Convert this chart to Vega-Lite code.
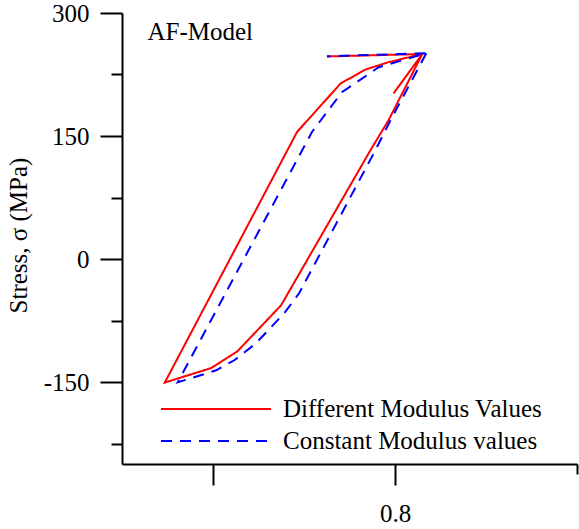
{
  "$schema": "https://vega.github.io/schema/vega-lite/v6.json",
  "autosize": {"type": "none"},
  "padding": {"left": 122, "top": 13, "right": 2, "bottom": 65},
  "width": 455,
  "height": 451,
  "config": {"view": {"stroke": null}, "font": "Liberation Serif",
    "axis": {"titleFont": "Liberation Serif", "labelFont": "Liberation Serif", "titleFontWeight": "normal"},
    "legend": {"labelFont": "Liberation Serif"},
    "text": {"font": "Liberation Serif"}},
  "data": {"values": [
    {"s": "Different Modulus Values", "i": 1, "strain": 0.7992, "stress": 202},
    {"s": "Different Modulus Values", "i": 2, "strain": 0.8150, "stress": 250},
    {"s": "Different Modulus Values", "i": 3, "strain": 0.7964, "stress": 169},
    {"s": "Different Modulus Values", "i": 4, "strain": 0.7866, "stress": 133},
    {"s": "Different Modulus Values", "i": 5, "strain": 0.7374, "stress": -56.5},
    {"s": "Different Modulus Values", "i": 6, "strain": 0.7134, "stress": -112.6},
    {"s": "Different Modulus Values", "i": 7, "strain": 0.6990, "stress": -133},
    {"s": "Different Modulus Values", "i": 8, "strain": 0.6735, "stress": -150.7},
    {"s": "Different Modulus Values", "i": 9, "strain": 0.7462, "stress": 155},
    {"s": "Different Modulus Values", "i": 10, "strain": 0.7701, "stress": 214},
    {"s": "Different Modulus Values", "i": 11, "strain": 0.7837, "stress": 231},
    {"s": "Different Modulus Values", "i": 12, "strain": 0.7964, "stress": 240},
    {"s": "Different Modulus Values", "i": 13, "strain": 0.8150, "stress": 250},
    {"s": "Different Modulus Values", "i": 14, "strain": 0.7626, "stress": 247},
    {"s": "Constant Modulus values", "i": 1, "strain": 0.8172, "stress": 250.9},
    {"s": "Constant Modulus values", "i": 2, "strain": 0.7981, "stress": 171.6},
    {"s": "Constant Modulus values", "i": 3, "strain": 0.7892, "stress": 132.6},
    {"s": "Constant Modulus values", "i": 4, "strain": 0.7473, "stress": -41.8},
    {"s": "Constant Modulus values", "i": 5, "strain": 0.7391, "stress": -66.2},
    {"s": "Constant Modulus values", "i": 6, "strain": 0.7236, "stress": -102.8},
    {"s": "Constant Modulus values", "i": 7, "strain": 0.7117, "stress": -123.5},
    {"s": "Constant Modulus values", "i": 8, "strain": 0.7017, "stress": -135.7},
    {"s": "Constant Modulus values", "i": 9, "strain": 0.6861, "stress": -146.7},
    {"s": "Constant Modulus values", "i": 10, "strain": 0.6806, "stress": -150.4},
    {"s": "Constant Modulus values", "i": 11, "strain": 0.7544, "stress": 154.9},
    {"s": "Constant Modulus values", "i": 12, "strain": 0.7708, "stress": 203.3},
    {"s": "Constant Modulus values", "i": 13, "strain": 0.7910, "stress": 233.8},
    {"s": "Constant Modulus values", "i": 14, "strain": 0.8057, "stress": 243.5},
    {"s": "Constant Modulus values", "i": 15, "strain": 0.8172, "stress": 250.9},
    {"s": "Constant Modulus values", "i": 16, "strain": 0.7626, "stress": 247.2}
  ]},
  "layer": [
    {
      "mark": {"type": "line", "strokeWidth": 2},
      "encoding": {
        "x": {"field": "strain", "type": "quantitative",
          "scale": {"domain": [0.65, 0.9], "nice": false, "zero": false},
          "axis": {"values": [0.7, 0.8], "labelExpr": "datum.value > 0.75 ? '0.8' : ''", "tickSize": 21, "tickWidth": 2, "domainWidth": 2, "domainColor": "black", "tickColor": "black", "labelFontSize": 25, "labelFont": "Liberation Serif", "labelColor": "black", "labelPadding": 16, "title": null, "grid": false, "labelFlush": false, "labelOverlap": false}},
        "y": {"field": "stress", "type": "quantitative",
          "scale": {"domain": [-250, 300], "nice": false, "zero": false},
          "axis": {"values": [-150, 0, 150, 300], "labelExpr": "datum.value + ''", "tickSize": 22, "tickWidth": 2, "domainWidth": 2, "domainColor": "black", "tickColor": "black", "labelFontSize": 25, "labelFont": "Liberation Serif", "labelColor": "black", "labelPadding": 11, "grid": false, "labelFlush": false, "labelOverlap": false,
            "title": "Stress, σ (MPa)", "titleFontSize": 25, "titleFont": "Liberation Serif", "titleFontWeight": "normal", "titleColor": "black", "titleAngle": -90, "titleX": -104, "titleY": 222, "titleAlign": "center", "titleBaseline": "middle"}},
        "color": {"field": "s", "type": "nominal",
          "scale": {"domain": ["Different Modulus Values", "Constant Modulus values"], "range": ["#ff0000", "#0000ff"]},
          "legend": {"title": null, "orient": "none", "legendX": 38, "legendY": 380, "symbolType": "stroke", "symbolSize": 12100, "symbolStrokeWidth": 2, "clipHeight": 32, "rowPadding": 0, "labelOffset": 11, "padding": 0, "labelFontSize": 25, "labelFont": "Liberation Serif", "labelLimit": 400, "labelColor": "black"}},
        "strokeDash": {"field": "s", "type": "nominal",
          "scale": {"domain": ["Different Modulus Values", "Constant Modulus values"], "range": [[1, 0], [11, 8]]},
          "legend": {"title": null, "orient": "none", "legendX": 38, "legendY": 380, "symbolType": "stroke", "symbolSize": 12100, "symbolStrokeWidth": 2, "clipHeight": 32, "rowPadding": 0, "labelOffset": 11, "padding": 0, "labelFontSize": 25, "labelFont": "Liberation Serif", "labelLimit": 400, "labelColor": "black"}},
        "order": {"field": "i", "type": "quantitative"}
      }
    },
    {
      "mark": {"type": "point", "opacity": 0},
      "encoding": {
        "x": {"field": "strain", "type": "quantitative",
          "axis": {"orient": "bottom", "values": [0.9], "tickSize": 10, "tickWidth": 2, "tickColor": "black", "labels": false, "domain": false, "grid": false, "title": null}},
        "y": {"field": "stress", "type": "quantitative",
          "axis": {"orient": "left", "values": [-225, -75, 75, 225], "tickSize": 11, "tickWidth": 2, "tickColor": "black", "labels": false, "domain": false, "grid": false, "title": null}}
      }
    },
    {
      "data": {"values": [{"t": "AF-Model"}]},
      "mark": {"type": "text", "align": "left", "baseline": "alphabetic", "fontSize": 25, "font": "Liberation Serif", "color": "black"},
      "encoding": {
        "text": {"field": "t"},
        "x": {"datum": 0.664, "type": "quantitative", "axis": null},
        "y": {"datum": 266.7, "type": "quantitative", "axis": null}
      }
    }
  ],
  "resolve": {"axis": {"x": "independent", "y": "independent"}}
}
